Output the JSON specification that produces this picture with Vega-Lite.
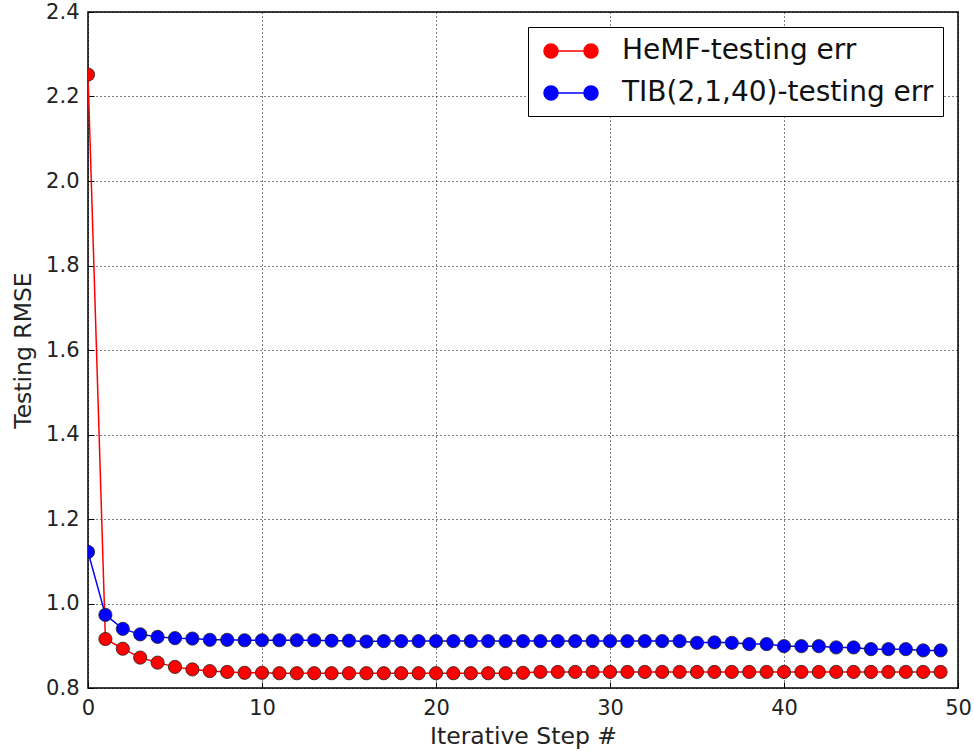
{
  "$schema": "https://vega.github.io/schema/vega-lite/v6.json",
  "width": 870,
  "height": 676,
  "autosize": {"type": "none"},
  "padding": {"left": 88, "top": 12, "right": 16, "bottom": 63},
  "background": "white",
  "config": {
    "font": "DejaVu Sans",
    "view": {"stroke": "black", "strokeWidth": 1.5},
    "axis": {
      "domain": false,
      "grid": true,
      "gridColor": "black",
      "gridDash": [1, 3],
      "gridWidth": 1,
      "gridOpacity": 1,
      "ticks": true,
      "tickColor": "black",
      "tickSize": -6,
      "tickWidth": 1,
      "labelFlush": false,
      "labelOverlap": false,
      "labelFont": "DejaVu Sans",
      "labelFontSize": 21,
      "labelColor": "#222",
      "titleFont": "DejaVu Sans",
      "titleFontSize": 23.5,
      "titleFontWeight": "normal",
      "titleColor": "#222"
    },
    "legend": {
      "labelFont": "DejaVu Sans",
      "labelFontSize": 28,
      "labelColor": "#111",
      "labelLimit": 0
    }
  },
  "data": {
    "values": [
      {"step": 0, "value": 2.252, "series": "HeMF-testing err"},
      {"step": 1, "value": 0.916, "series": "HeMF-testing err"},
      {"step": 2, "value": 0.893, "series": "HeMF-testing err"},
      {"step": 3, "value": 0.872, "series": "HeMF-testing err"},
      {"step": 4, "value": 0.860, "series": "HeMF-testing err"},
      {"step": 5, "value": 0.850, "series": "HeMF-testing err"},
      {"step": 6, "value": 0.844, "series": "HeMF-testing err"},
      {"step": 7, "value": 0.840, "series": "HeMF-testing err"},
      {"step": 8, "value": 0.838, "series": "HeMF-testing err"},
      {"step": 9, "value": 0.836, "series": "HeMF-testing err"},
      {"step": 10, "value": 0.836, "series": "HeMF-testing err"},
      {"step": 11, "value": 0.835, "series": "HeMF-testing err"},
      {"step": 12, "value": 0.835, "series": "HeMF-testing err"},
      {"step": 13, "value": 0.835, "series": "HeMF-testing err"},
      {"step": 14, "value": 0.835, "series": "HeMF-testing err"},
      {"step": 15, "value": 0.835, "series": "HeMF-testing err"},
      {"step": 16, "value": 0.835, "series": "HeMF-testing err"},
      {"step": 17, "value": 0.835, "series": "HeMF-testing err"},
      {"step": 18, "value": 0.835, "series": "HeMF-testing err"},
      {"step": 19, "value": 0.835, "series": "HeMF-testing err"},
      {"step": 20, "value": 0.835, "series": "HeMF-testing err"},
      {"step": 21, "value": 0.835, "series": "HeMF-testing err"},
      {"step": 22, "value": 0.835, "series": "HeMF-testing err"},
      {"step": 23, "value": 0.835, "series": "HeMF-testing err"},
      {"step": 24, "value": 0.835, "series": "HeMF-testing err"},
      {"step": 25, "value": 0.836, "series": "HeMF-testing err"},
      {"step": 26, "value": 0.838, "series": "HeMF-testing err"},
      {"step": 27, "value": 0.838, "series": "HeMF-testing err"},
      {"step": 28, "value": 0.838, "series": "HeMF-testing err"},
      {"step": 29, "value": 0.838, "series": "HeMF-testing err"},
      {"step": 30, "value": 0.838, "series": "HeMF-testing err"},
      {"step": 31, "value": 0.838, "series": "HeMF-testing err"},
      {"step": 32, "value": 0.838, "series": "HeMF-testing err"},
      {"step": 33, "value": 0.838, "series": "HeMF-testing err"},
      {"step": 34, "value": 0.838, "series": "HeMF-testing err"},
      {"step": 35, "value": 0.838, "series": "HeMF-testing err"},
      {"step": 36, "value": 0.838, "series": "HeMF-testing err"},
      {"step": 37, "value": 0.838, "series": "HeMF-testing err"},
      {"step": 38, "value": 0.838, "series": "HeMF-testing err"},
      {"step": 39, "value": 0.838, "series": "HeMF-testing err"},
      {"step": 40, "value": 0.838, "series": "HeMF-testing err"},
      {"step": 41, "value": 0.838, "series": "HeMF-testing err"},
      {"step": 42, "value": 0.838, "series": "HeMF-testing err"},
      {"step": 43, "value": 0.838, "series": "HeMF-testing err"},
      {"step": 44, "value": 0.838, "series": "HeMF-testing err"},
      {"step": 45, "value": 0.838, "series": "HeMF-testing err"},
      {"step": 46, "value": 0.838, "series": "HeMF-testing err"},
      {"step": 47, "value": 0.838, "series": "HeMF-testing err"},
      {"step": 48, "value": 0.838, "series": "HeMF-testing err"},
      {"step": 49, "value": 0.838, "series": "HeMF-testing err"},
      {"step": 0, "value": 1.122, "series": "TIB(2,1,40)-testing err"},
      {"step": 1, "value": 0.973, "series": "TIB(2,1,40)-testing err"},
      {"step": 2, "value": 0.940, "series": "TIB(2,1,40)-testing err"},
      {"step": 3, "value": 0.927, "series": "TIB(2,1,40)-testing err"},
      {"step": 4, "value": 0.921, "series": "TIB(2,1,40)-testing err"},
      {"step": 5, "value": 0.918, "series": "TIB(2,1,40)-testing err"},
      {"step": 6, "value": 0.917, "series": "TIB(2,1,40)-testing err"},
      {"step": 7, "value": 0.914, "series": "TIB(2,1,40)-testing err"},
      {"step": 8, "value": 0.914, "series": "TIB(2,1,40)-testing err"},
      {"step": 9, "value": 0.913, "series": "TIB(2,1,40)-testing err"},
      {"step": 10, "value": 0.913, "series": "TIB(2,1,40)-testing err"},
      {"step": 11, "value": 0.913, "series": "TIB(2,1,40)-testing err"},
      {"step": 12, "value": 0.913, "series": "TIB(2,1,40)-testing err"},
      {"step": 13, "value": 0.913, "series": "TIB(2,1,40)-testing err"},
      {"step": 14, "value": 0.912, "series": "TIB(2,1,40)-testing err"},
      {"step": 15, "value": 0.912, "series": "TIB(2,1,40)-testing err"},
      {"step": 16, "value": 0.910, "series": "TIB(2,1,40)-testing err"},
      {"step": 17, "value": 0.911, "series": "TIB(2,1,40)-testing err"},
      {"step": 18, "value": 0.911, "series": "TIB(2,1,40)-testing err"},
      {"step": 19, "value": 0.911, "series": "TIB(2,1,40)-testing err"},
      {"step": 20, "value": 0.911, "series": "TIB(2,1,40)-testing err"},
      {"step": 21, "value": 0.911, "series": "TIB(2,1,40)-testing err"},
      {"step": 22, "value": 0.911, "series": "TIB(2,1,40)-testing err"},
      {"step": 23, "value": 0.911, "series": "TIB(2,1,40)-testing err"},
      {"step": 24, "value": 0.911, "series": "TIB(2,1,40)-testing err"},
      {"step": 25, "value": 0.911, "series": "TIB(2,1,40)-testing err"},
      {"step": 26, "value": 0.911, "series": "TIB(2,1,40)-testing err"},
      {"step": 27, "value": 0.911, "series": "TIB(2,1,40)-testing err"},
      {"step": 28, "value": 0.911, "series": "TIB(2,1,40)-testing err"},
      {"step": 29, "value": 0.911, "series": "TIB(2,1,40)-testing err"},
      {"step": 30, "value": 0.911, "series": "TIB(2,1,40)-testing err"},
      {"step": 31, "value": 0.911, "series": "TIB(2,1,40)-testing err"},
      {"step": 32, "value": 0.911, "series": "TIB(2,1,40)-testing err"},
      {"step": 33, "value": 0.911, "series": "TIB(2,1,40)-testing err"},
      {"step": 34, "value": 0.911, "series": "TIB(2,1,40)-testing err"},
      {"step": 35, "value": 0.907, "series": "TIB(2,1,40)-testing err"},
      {"step": 36, "value": 0.908, "series": "TIB(2,1,40)-testing err"},
      {"step": 37, "value": 0.907, "series": "TIB(2,1,40)-testing err"},
      {"step": 38, "value": 0.904, "series": "TIB(2,1,40)-testing err"},
      {"step": 39, "value": 0.904, "series": "TIB(2,1,40)-testing err"},
      {"step": 40, "value": 0.899, "series": "TIB(2,1,40)-testing err"},
      {"step": 41, "value": 0.899, "series": "TIB(2,1,40)-testing err"},
      {"step": 42, "value": 0.899, "series": "TIB(2,1,40)-testing err"},
      {"step": 43, "value": 0.896, "series": "TIB(2,1,40)-testing err"},
      {"step": 44, "value": 0.896, "series": "TIB(2,1,40)-testing err"},
      {"step": 45, "value": 0.892, "series": "TIB(2,1,40)-testing err"},
      {"step": 46, "value": 0.892, "series": "TIB(2,1,40)-testing err"},
      {"step": 47, "value": 0.892, "series": "TIB(2,1,40)-testing err"},
      {"step": 48, "value": 0.889, "series": "TIB(2,1,40)-testing err"},
      {"step": 49, "value": 0.889, "series": "TIB(2,1,40)-testing err"}
    ]
  },
  "encoding": {
    "x": {
      "field": "step",
      "type": "quantitative",
      "title": "Iterative Step #",
      "scale": {"domain": [0, 50], "nice": false, "zero": false},
      "axis": {"values": [0, 10, 20, 30, 40, 50], "labelPadding": 15, "titlePadding": 6}
    },
    "y": {
      "field": "value",
      "type": "quantitative",
      "title": "Testing RMSE",
      "scale": {"domain": [0.8, 2.4], "nice": false, "zero": false},
      "axis": {"values": [0.8, 1.0, 1.2, 1.4, 1.6, 1.8, 2.0, 2.2, 2.4], "format": ".1f", "labelPadding": 15, "titlePadding": 10}
    },
    "color": {
      "field": "series",
      "type": "nominal",
      "scale": {"domain": ["HeMF-testing err", "TIB(2,1,40)-testing err"], "range": ["#ff0000", "#0000ff"]},
      "legend": {
        "title": null,
        "orient": "top-right",
        "offset": 15,
        "strokeColor": "black",
        "fillColor": "white",
        "padding": 9,
        "symbolType": "M -1.9286 0 A 0.5 0.5 0 1 0 -0.9286 0 A 0.5 0.5 0 1 0 -1.9286 0 Z M 0.9286 0 A 0.5 0.5 0 1 0 1.9286 0 A 0.5 0.5 0 1 0 0.9286 0 Z M -1.4286 0 L 1.4286 0",
        "symbolSize": 784,
        "symbolOffset": 19,
        "symbolStrokeWidth": 1.5,
        "symbolOpacity": 1,
        "rowPadding": 13,
        "labelOffset": 36,
        "cornerRadius": 0
      }
    }
  },
  "layer": [
    {"mark": {"type": "line", "strokeWidth": 1.5, "clip": true}},
    {"mark": {"type": "point", "filled": true, "size": 175, "opacity": 1, "stroke": "#222", "strokeWidth": 0.8, "clip": true}}
  ]
}
